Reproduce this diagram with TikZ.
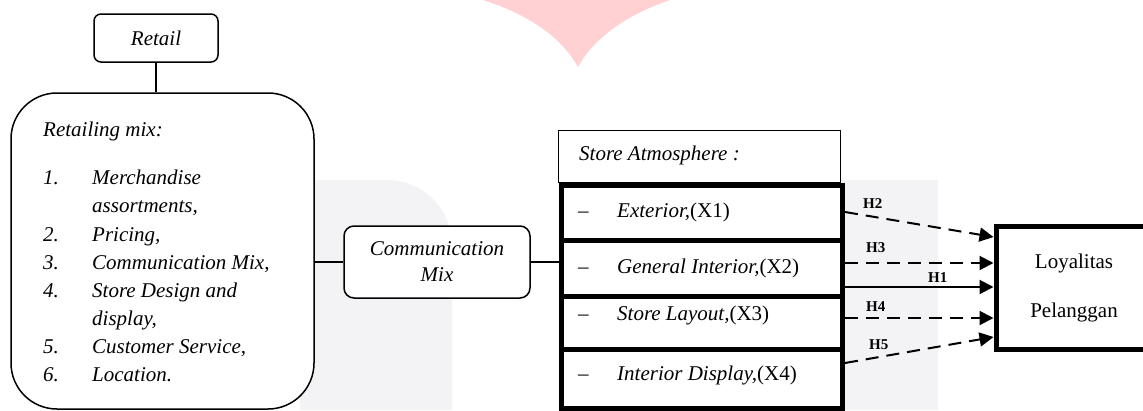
\documentclass[tikz,border=0pt]{standalone}
\usepackage{fontspec}
\setmainfont{Liberation Serif}
\usetikzlibrary{arrows.meta,calc}
\definecolor{wmgray}{RGB}{243,243,245}
\definecolor{wmpink}{RGB}{255,209,211}
\begin{document}
\begin{tikzpicture}[x=1pt,y=-1pt,
  txt/.style={font=\fontsize{21}{28}\selectfont, inner sep=0pt},
  hlab/.style={font=\fontsize{15}{18}\selectfont\bfseries, inner sep=0pt, anchor=base west},
  rbox/.style={draw, line width=1.5pt, fill=white, inner sep=0pt},
  thinbox/.style={draw, line width=1.2pt, fill=white, inner sep=0pt},
  thickbox/.style={draw, line width=5pt, fill=white, inner sep=0pt, anchor=north west, minimum width=281pt},
  conn/.style={line width=1.2pt},
  hyp/.style={line width=2pt, -{Triangle[length=14pt,width=14pt]}},
  dsh/.style={dash pattern=on 13pt off 8pt}]
\useasboundingbox (0,0) rectangle (1143,410);
% watermark
\fill[wmpink] (483,0) .. controls (530,15) and (562,38) .. (578,67) .. controls (594,38) and (626,15) .. (670,0) -- cycle;
\fill[wmgray] (300,410) -- (300,180) -- (387,180) .. controls (423,180) and (452,209) .. (452,245) -- (452,410) -- cycle;
\fill[wmgray] (690,180) rectangle (938,410);
% left part
\node[rbox, rounded corners=7pt, minimum width=124pt, minimum height=48pt] (retail) at (156,38) {};
\node[txt] (retailtxt) at (156,38) {\textit{Retail}};
\node[rbox, rounded corners=46pt, minimum width=303pt, minimum height=316pt] (mix) at (162.5,251) {};
\draw[conn] (retail.south) -- (retail.south |- mix.north);
\node[txt, anchor=base west] (mixhead) at (43,136) {\textit{Retailing mix:}};
\foreach \n/\t/\b [count=\i] in {1./{Merchandise}/184, {}/{assortments,}/212, 2./{Pricing,}/241, 3./{Communication Mix,}/269, 4./{Store Design and}/297, {}/{display,}/325, 5./{Customer Service,}/353, 6./{Location.}/381}{
  \node[txt, anchor=base west] (num\i) at (43,\b) {\textit{\n}};
  \node[txt, anchor=base west] (item\i) at (92,\b) {\textit{\t}};
}
% communication mix
\node[rbox, rounded corners=10pt, minimum width=186pt, minimum height=72pt, align=center, font=\fontsize{21}{26}\selectfont] (comm) at (437,262) {\textit{Communication}\\\textit{Mix}};
\draw[conn] (mix.east |- comm.west) -- (comm.west);
% store atmosphere
\node[thinbox, anchor=north west, minimum width=282pt, minimum height=52pt] (hdr) at (558,130) {};
\node[txt, anchor=base west] (hdrtxt) at (579,160) {\textit{Store Atmosphere :}};
\node[thickbox, minimum height=54.5pt] (b1) at (559,183) {};
\node[thickbox, minimum height=56.5pt] (b2) at (559,237.5) {};
\node[thickbox, minimum height=53pt] (b3) at (559,294) {};
\node[thickbox, minimum height=59pt] (b4) at (559,347) {};
\draw[conn] (comm.east) -- (b2.west |- comm.east);
\foreach \t/\x/\b [count=\i] in {{Exterior}/X1/217, {General Interior}/X2/273, {Store Layout}/X3/320, {Interior Display}/X4/380}{
  \node[txt, anchor=base west] (dash\i) at (578,\b) {--};
  \node[txt, anchor=base west] (row\i) at (617,\b) {\textit{\t,}(\x)};
}
% loyalitas
\node[draw, line width=5pt, fill=white, inner sep=0pt, minimum width=156pt, minimum height=123pt, align=center, font=\fontsize{21}{28}\selectfont] (loy) at (1074,287.5) {Loyalitas\\[21pt]Pelanggan};
% hypotheses
\draw[hyp, dsh] (b1.east |- 0,212) -- (loy.west |- 0,237);
\draw[hyp, dsh] (b2.east |- 0,263) -- (loy.west |- 0,263);
\draw[hyp] (b2.east |- 0,287) -- (loy.west |- 0,287);
\draw[hyp, dsh] (b3.east |- 0,318) -- (loy.west |- 0,318);
\draw[hyp, dsh] (b4.east |- 0,363) -- (loy.west |- 0,337);
\node[hlab] (h2) at (863,208) {H2};
\node[hlab] (h3) at (866,252) {H3};
\node[hlab] (h1) at (928,282) {H1};
\node[hlab] (h4) at (866,311) {H4};
\node[hlab] (h5) at (869,349) {H5};
\end{tikzpicture}
\end{document}
